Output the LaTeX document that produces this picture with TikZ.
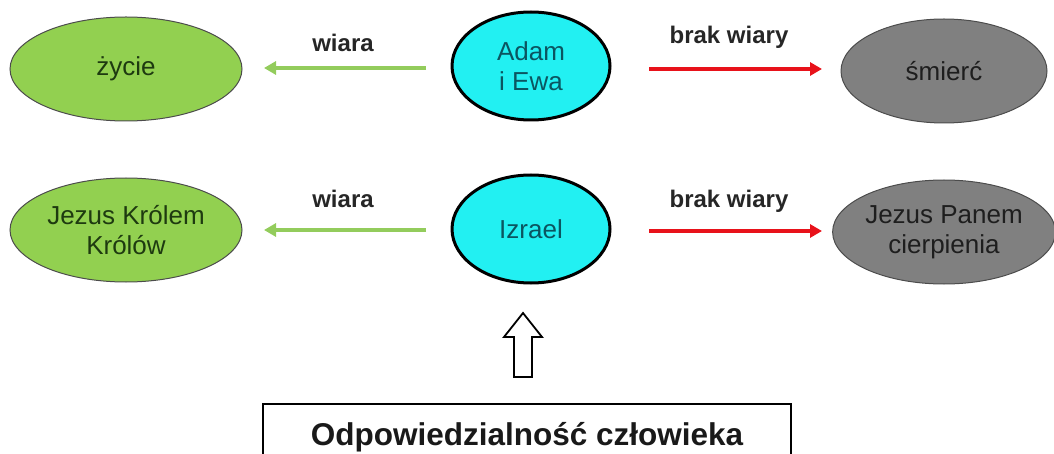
\documentclass[tikz,border=0pt]{standalone}
\usepackage{fontspec}
\setmainfont{Liberation Sans}
\usetikzlibrary{shapes.geometric,arrows.meta}
\definecolor{lgreen}{HTML}{92D050}
\definecolor{agreen}{HTML}{93CC5C}
\definecolor{dgreentext}{HTML}{1E3A10}
\definecolor{cyanfill}{HTML}{22F0F2}
\definecolor{tealtext}{HTML}{0B5560}
\definecolor{grayfill}{HTML}{808080}
\definecolor{graytext}{HTML}{1E1E1E}
\definecolor{redarrow}{HTML}{E8121A}
\tikzset{
  base/.style={ellipse, inner sep=0pt, align=center, font=\fontsize{26}{30}\selectfont},
  greenell/.style={base, draw=black!70, line width=1pt, fill=lgreen, text=dgreentext, minimum width=232pt, minimum height=104pt},
  cyanell/.style={base, draw=black, line width=3pt, fill=cyanfill, text=tealtext, minimum width=158pt, minimum height=108pt},
  grayell/.style={base, draw=black!70, line width=1pt, fill=grayfill, text=graytext, minimum width=206pt, minimum height=104pt},
  lbl/.style={font=\bfseries\fontsize{24}{27}\selectfont, text=black!85},
  garrow/.style={draw=agreen, line width=4pt, -{Triangle[length=12pt,width=13pt]}},
  rarrow/.style={draw=redarrow, line width=4pt, -{Triangle[length=12pt,width=13pt]}},
}
\begin{document}
\begin{tikzpicture}[x=1pt,y=-1pt]
\useasboundingbox (0,0) rectangle (1054,454);
\clip (0,0) rectangle (1054,454);
% row 1
\node[greenell] (zycie) at (126,69) {życie};
\node[cyanell] (adam) at (531,66) {Adam\\i Ewa};
\node[grayell] (smierc) at (944,71) {śmierć};
\coordinate (g1s) at (426,68);
\coordinate (g1e) at (264,68);
\coordinate (r1s) at (649,69);
\coordinate (r1e) at (822,69);
\draw[garrow] (g1s) -- (g1e);
\draw[rarrow] (r1s) -- (r1e);
\node[lbl] (l1) at (343,43) {wiara};
\node[lbl] (l2) at (729,37) {brak wiary};
% row 2
\node[greenell] (krol) at (126,230) {Jezus Królem\\Królów};
\node[cyanell] (izrael) at (531,229) {Izrael};
\node[grayell] (panem) at (944,232) {Jezus Panem\\cierpienia};
\coordinate (g2s) at (426,230);
\coordinate (g2e) at (264,230);
\coordinate (r2s) at (649,231);
\coordinate (r2e) at (822,231);
\draw[garrow] (g2s) -- (g2e);
\draw[rarrow] (r2s) -- (r2e);
\node[lbl] (l3) at (343,199) {wiara};
\node[lbl] (l4) at (729,201) {brak wiary};
% hollow arrow
\draw[line width=1.8pt, line join=miter, fill=white]
  (514,377) -- (514,337) -- (504,337) -- (523,313) -- (542,337) -- (532,337) -- (532,377) -- cycle;
% box
\node[draw=black, line width=2pt, minimum width=528pt, minimum height=90pt, anchor=north west, inner sep=0pt] (box) at (262,403) {};
\node[font=\bfseries\fontsize{31.5}{35}\selectfont, text=black!90] (boxt) at (527,437) {Odpowiedzialność człowieka};
\end{tikzpicture}
\end{document}
